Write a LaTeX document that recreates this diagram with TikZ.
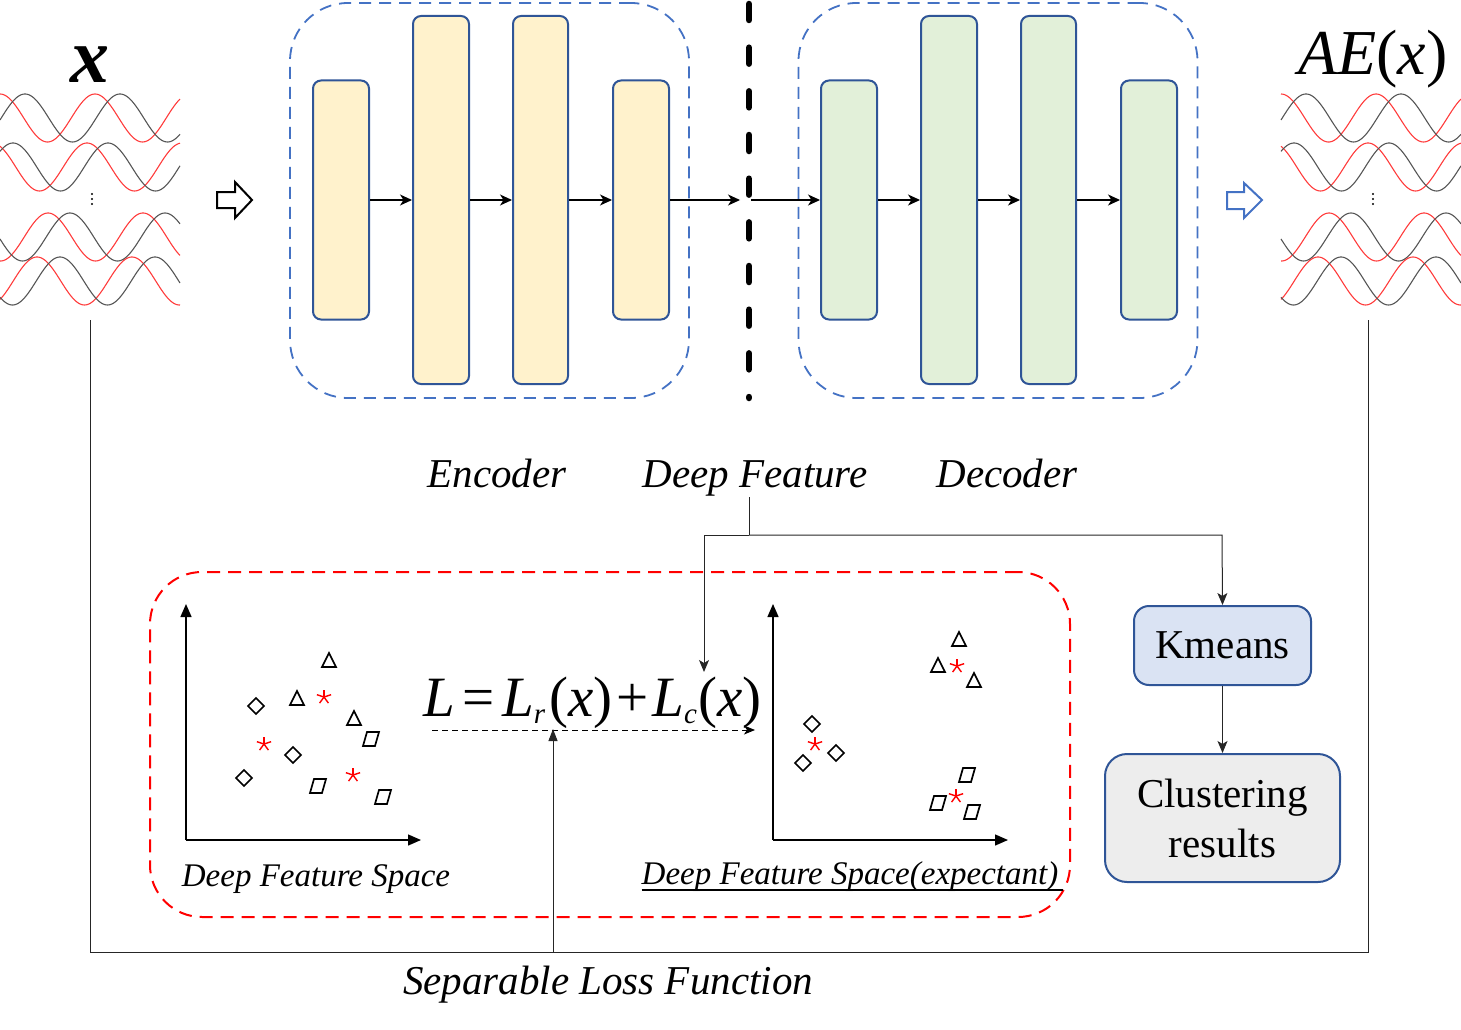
\documentclass[tikz,border=0pt]{standalone}
\usepackage{fontspec}
\setmainfont{Liberation Serif}
\usetikzlibrary{arrows.meta}
\definecolor{bord}{HTML}{2F5597}
\definecolor{encfill}{HTML}{FFF2CC}
\definecolor{decfill}{HTML}{E2F0D9}
\definecolor{kmfill}{HTML}{DAE3F3}
\definecolor{crfill}{HTML}{EDEDED}
\definecolor{dblue}{HTML}{4472C4}
\definecolor{wavered}{HTML}{FF3B3B}
\definecolor{wavegray}{HTML}{555555}
\newcommand{\waverow}[3]{%
  \draw[wred] plot[domain=0:180,samples=120,smooth] (\x,{#1-24*cos((\x-(#2))*3.78947)});
  \draw[wgray] plot[domain=0:180,samples=120,smooth] (\x,{#1-24*cos((\x-(#3))*3.78947)});}
\newcommand{\wavegroup}{%
  \waverow{118}{0}{25}
  \waverow{167}{-8}{13}
  \waverow{237}{48}{70}
  \waverow{281}{37}{60}}
\newcommand{\subsc}[1]{\raisebox{-7pt}{\fontsize{29}{29}\selectfont\itshape #1}}
\begin{document}
\begin{tikzpicture}[x=1pt,y=-1pt,
  wred/.style={draw=wavered,line width=1.1pt},
  wgray/.style={draw=wavegray,line width=1.1pt},
  blk/.style={draw=bord,line width=2pt,rounded corners=8pt,minimum width=56pt,inner sep=0pt},
  encblk/.style={blk,fill=encfill},
  decblk/.style={blk,fill=decfill},
  grpbox/.style={draw=dblue,line width=1.8pt,dash pattern=on 12pt off 8pt,rounded corners=58pt,minimum width=399pt,minimum height=395pt,inner sep=0pt},
  flow/.style={draw=black,line width=1.2pt,-{Stealth[length=12pt,width=11pt,inset=3.5pt]}},
  conn/.style={draw=black!85,line width=1pt},
  connarr/.style={conn,-{Stealth[length=12pt,width=10pt,inset=3pt]}},
  axis/.style={draw=black,line width=1.4pt,-{Triangle[length=13pt,width=11pt]}},
  lbl/.style={font=\fontsize{41}{49}\selectfont\itshape,inner sep=0pt,anchor=base},
  slbl/.style={font=\fontsize{33}{40}\selectfont\itshape,inner sep=0pt,anchor=base},
  mk/.style={draw=black,line width=1.7pt,line join=miter},
  mtri/.pic={\draw[mk] (-7,7) -- (7,7) -- (0,-7) -- cycle;},
  mdia/.pic={\draw[mk] (0,-8) -- (8,0) -- (0,8) -- (-8,0) -- cycle;},
  mpar/.pic={\draw[mk] (-8,7) -- (4,7) -- (8,-7) -- (-4,-7) -- cycle;},
  mast/.pic={\foreach \a in {270,198,342,126,54} \draw[red,line width=1.4pt] (0,0) -- (\a:7.5);},
]
\useasboundingbox (0,0) rectangle (1461,1030);

% ---------- input / output waves ----------
\wavegroup
\foreach \yy in {194,199,204} \fill (92,\yy) circle (1.2pt);
\begin{scope}[xshift=1281pt]
  \wavegroup
  \foreach \yy in {194,199,204} \fill (92,\yy) circle (1.2pt);
\end{scope}
\node[font=\fontsize{78}{78}\selectfont\bfseries\itshape,inner sep=0pt,anchor=base] (xin) at (90,83) {x};
\node[font=\fontsize{64}{64}\selectfont,inner sep=0pt,anchor=base] (aex) at (1373,75) {\itshape AE\upshape(\itshape x\upshape)};

% hollow arrows
\draw[line width=2pt,line join=miter] (217,192) -- (235,192) -- (235,182) -- (252,200) -- (235,218) -- (235,208) -- (217,208) -- cycle;
\draw[draw=dblue,line width=2pt,line join=miter] (1227,192) -- (1244,192) -- (1244,183) -- (1262,200) -- (1244,218) -- (1244,209) -- (1227,209) -- cycle;

% ---------- encoder / decoder ----------
\node[grpbox] (encbox) at (489.5,200.5) {};
\node[grpbox] (decbox) at (998,200.5) {};
\node[encblk,minimum height=239pt] (e1) at (341,200) {};
\node[encblk,minimum height=368pt] (e2) at (441,200) {};
\node[encblk,minimum height=368pt,minimum width=55pt] (e3) at (540.5,200) {};
\node[encblk,minimum height=239pt] (e4) at (641,200) {};
\node[decblk,minimum height=239pt] (d1) at (849,200) {};
\node[decblk,minimum height=368pt] (d2) at (949,200) {};
\node[decblk,minimum height=368pt,minimum width=55pt] (d3) at (1048.5,200) {};
\node[decblk,minimum height=239pt] (d4) at (1149,200) {};
\coordinate (sepT) at (749,4);
\coordinate (sepB) at (749,398);
\coordinate (sepL) at (740,200);
\coordinate (sepR) at (751,200);
\draw[line width=6.5pt,line cap=round,dash pattern=on 16pt off 27.67pt] (sepT) -- (sepB);
\draw[flow] (e1) -- (e2);
\draw[flow] (e2) -- (e3);
\draw[flow] (e3) -- (e4);
\draw[flow] (e4) -- (sepL);
\draw[flow] (sepR) -- (d1);
\draw[flow] (d1) -- (d2);
\draw[flow] (d2) -- (d3);
\draw[flow] (d3) -- (d4);

% ---------- labels ----------
\node[lbl] (encl) at (497,487) {Encoder};
\node[lbl] (dfl) at (755,487) {Deep Feature};
\node[lbl] (decl) at (1007,487) {Decoder};

% ---------- loss region ----------
\node[draw=red,line width=2pt,dash pattern=on 13pt off 8pt,rounded corners=52pt,minimum width=920pt,minimum height=345pt,inner sep=0pt] (lossbox) at (610,744.5) {};

% plot 1
\coordinate (o1) at (186,840);
\coordinate (y1) at (186,604);
\coordinate (x1) at (421,840);
\draw[axis] (o1) -- (y1);
\draw[axis] (o1) -- (x1);
\pic at (329,660) {mtri}; \pic at (297,698) {mtri}; \pic at (354,718) {mtri};
\pic at (324,697) {mast}; \pic at (264,744) {mast}; \pic at (353,775) {mast};
\pic at (256,706) {mdia}; \pic at (293,755) {mdia}; \pic at (244,778) {mdia};
\pic at (371,739) {mpar}; \pic at (318,786) {mpar}; \pic at (383,797) {mpar};
\node[slbl] (dfs1) at (316,886) {Deep Feature Space};

% plot 2
\coordinate (o2) at (773,840);
\coordinate (y2) at (773,604);
\coordinate (x2) at (1008,840);
\draw[axis] (o2) -- (y2);
\draw[axis] (o2) -- (x2);
\pic at (959,639) {mtri}; \pic at (938,665) {mtri}; \pic at (974,680) {mtri};
\pic at (957,666) {mast}; \pic at (815,744) {mast}; \pic at (956,796) {mast};
\pic at (812,724) {mdia}; \pic at (836,753) {mdia}; \pic at (803,763) {mdia};
\pic at (967,775) {mpar}; \pic at (938,803) {mpar}; \pic at (972,812) {mpar};
\node[slbl] (dfs2) at (850,884) {Deep Feature Space(expectant)};
\draw[line width=1.6pt] (dfs2.base west) ++(0,6) -- ++(421,0);

% formula
\node[inner sep=0pt,anchor=base west,font=\fontsize{57}{57}\selectfont] (form) at (423,716)
  {\itshape L\upshape\hspace{8pt}=\hspace{7pt}\itshape L\subsc{r}\hspace{4pt}\upshape(\itshape x\upshape)\hspace{4pt}+\hspace{4pt}\itshape L\subsc{c}\hspace{1pt}\upshape(\itshape x\upshape)};
\coordinate (fa) at (432,730);
\coordinate (fb) at (755,730);
\draw[draw=black,line width=1pt,dash pattern=on 6pt off 4pt,-{Stealth[length=11pt,width=9pt,inset=3pt]}] (fa) -- (fb);

% ---------- kmeans ----------
\node[draw=bord,fill=kmfill,line width=2pt,rounded corners=15pt,minimum width=177pt,minimum height=79pt,inner sep=0pt,font=\fontsize{41}{49}\selectfont] (km) at (1222.5,645.5) {Kmeans};
\node[draw=bord,fill=crfill,line width=2pt,rounded corners=22pt,minimum width=235pt,minimum height=128pt,inner sep=0pt,align=center,font=\fontsize{41}{50}\selectfont] (cr) at (1222.5,818) {Clustering\\ results};
\draw[connarr] (km) -- (cr);

% deep-feature branch
\coordinate (dfs) at (749,497);
\coordinate (dfj) at (749,535);
\coordinate (dfleft) at (704,535);
\coordinate (dfright) at (1222,535);
\coordinate (lc) at (704,672);
\draw[conn] (dfs) -- (dfj);
\draw[connarr] (dfj) -- (dfleft) -- (lc);
\draw[connarr] (dfj) -- (dfright) -- (km.north);

% ---------- separable loss loop ----------
\coordinate (xl) at (90,320);
\coordinate (xr) at (1368,320);
\coordinate (bl) at (90,952);
\coordinate (br) at (1368,952);
\coordinate (sb) at (553,952);
\coordinate (st) at (553,729);
\draw[conn] (xl) -- (bl) -- (br) -- (xr);
\draw[conn,-{Triangle[length=12pt,width=9pt]}] (sb) -- (st);
\node[lbl] (slf) at (608,994) {Separable Loss Function};
\end{tikzpicture}
\end{document}
